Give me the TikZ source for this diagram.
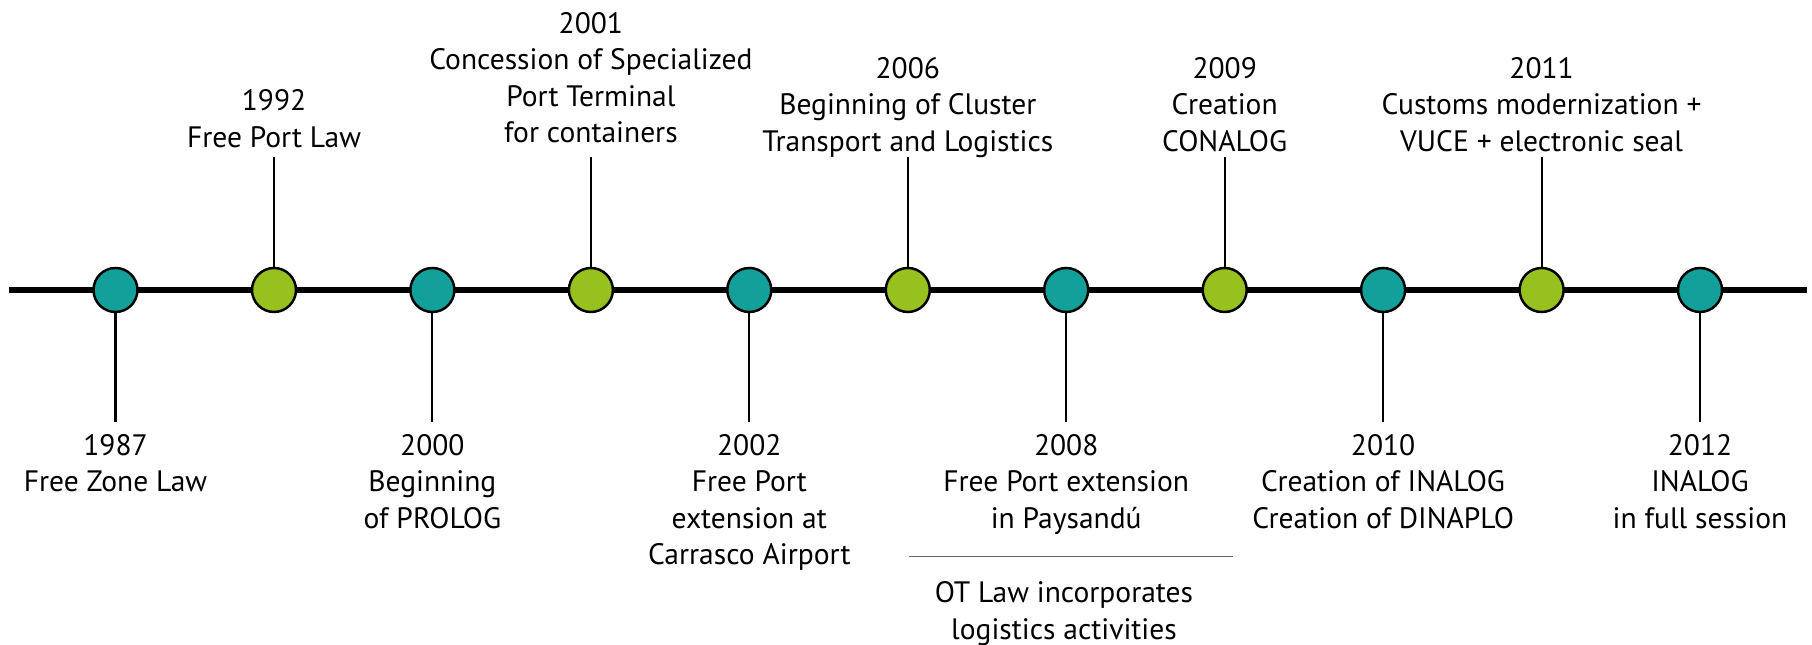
\documentclass[tikz,border=0pt]{standalone}
\usepackage{fontspec}
\setmainfont{PT Sans}
\usepackage{xcolor}
\usetikzlibrary{positioning}
\definecolor{tealdot}{RGB}{20,160,154}
\definecolor{greendot}{RGB}{150,193,31}
\tikzset{%
	dot/.style      = {draw, circle, line width=0.7pt, minimum size=0.44cm, inner sep=0pt},
	tealyear/.style = {dot, fill=tealdot},
	greenyear/.style= {dot, fill=greendot},
	stem/.style     = {line width=0.6pt},
	axis/.style     = {line width=1.8pt},
	eventtext/.style= {align=center, inner sep=0pt, font=\fontsize{8.4}{10.4}\selectfont},
	bottomtext/.style={eventtext, anchor=north},
}

\begin{document}
\begin{tikzpicture}
	\useasboundingbox (0,2.90) rectangle (18.12,-3.55);
	
	% time axis
	\coordinate (start) at (0.09,0);
	\coordinate (end) at (18.07,0);
	\draw[axis] (start) -- (end);
	
	% the years on the axis
	\node[tealyear]  (d1987) at (1.155,0) {};
	\node[greenyear] (d1992) at (2.74,0) {};
	\node[tealyear]  (d2000) at (4.324,0) {};
	\node[greenyear] (d2001) at (5.909,0) {};
	\node[tealyear]  (d2002) at (7.493,0) {};
	\node[greenyear] (d2006) at (9.078,0) {};
	\node[tealyear]  (d2008) at (10.662,0) {};
	\node[greenyear] (d2009) at (12.247,0) {};
	\node[tealyear]  (d2010) at (13.831,0) {};
	\node[greenyear] (d2011) at (15.416,0) {};
	\node[tealyear]  (d2012) at (17.0,0) {};
	
	% stems
	\foreach \yr in {1992,2001,2006,2009,2011}{
		\coordinate (s\yr) at ([yshift=1.325cm]d\yr.center);
		\draw[stem] (d\yr.north) -- (s\yr);
	}
	\foreach \yr in {1987,2000,2002,2008,2010,2012}{
		\coordinate (s\yr) at ([yshift=-1.325cm]d\yr.center);
		\draw[stem] (d\yr.south) -- (s\yr);
	}
	
	% texts above the axis
	\node[eventtext, anchor=north] (t1992) at (2.74,2.012) {1992\\Free Port Law};
	\node[eventtext, anchor=north] (t2001) at (5.909,2.786) {2001\\Concession of Specialized\\Port Terminal\\for containers};
	\node[eventtext, anchor=north] (t2006) at (9.078,2.333) {2006\\Beginning of Cluster\\Transport and Logistics};
	\node[eventtext, anchor=north] (t2009) at (12.247,2.333) {2009\\Creation\\CONALOG};
	\node[eventtext, anchor=north] (t2011) at (15.416,2.333) {2011\\Customs modernization +\\VUCE + electronic seal};
	
	% texts below the axis
	\node[bottomtext] (t1987) at (1.155,-1.436) {1987\\Free Zone Law};
	\node[bottomtext] (t2000) at (4.324,-1.436) {2000\\Beginning\\of PROLOG};
	\node[bottomtext] (t2002) at (7.493,-1.436) {2002\\Free Port\\extension at\\Carrasco Airport};
	\node[bottomtext] (t2008) at (10.662,-1.436) {2008\\Free Port extension\\in Paysandú};
	\node[bottomtext] (t2010) at (13.831,-1.436) {2010\\Creation of INALOG\\Creation of DINAPLO};
	\node[bottomtext] (t2012) at (17.0,-1.436) {2012\\INALOG\\in full session};
	
	\coordinate (rulel) at (9.09,-2.664);
	\coordinate (ruler) at (12.33,-2.664);
	\draw[black!60, line width=0.4pt] (rulel) -- (ruler);
	\node[bottomtext] (tOT) at (10.64,-2.91) {OT Law incorporates\\logistics activities};
\end{tikzpicture}
\end{document}
